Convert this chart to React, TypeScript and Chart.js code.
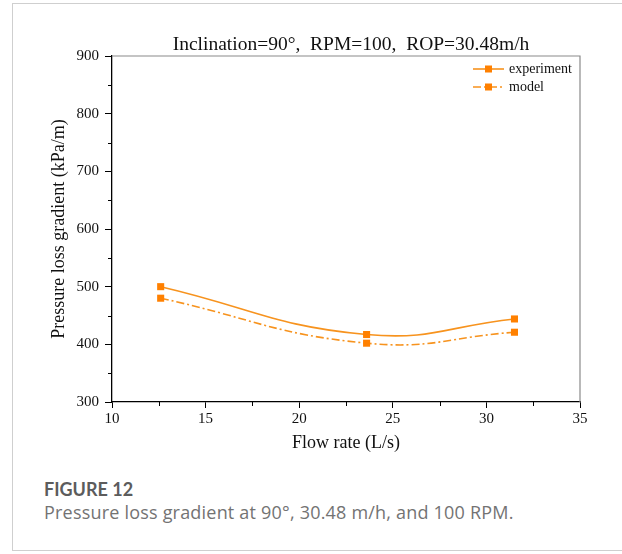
import React, { useEffect, useRef } from "react";
import { Chart, registerables } from "chart.js";

Chart.register(...registerables);

const chartTitle = "Inclination=90°,  RPM=100,  ROP=30.48m/h";
const xAxisTitle = "Flow rate (L/s)";
const yAxisTitle = "Pressure loss gradient (kPa/m)";
const flowRates = [12.6, 23.6, 31.5];
const experiment = [500, 417, 444];
const model = [480, 402, 421];
const seriesNames = ["experiment", "model"];
const xMin = 10, xMax = 35, xStep = 5;
const yMin = 300, yMax = 900, yStep = 100;

const SERIF = '"Liberation Serif", "Times New Roman", serif';
const ORANGE = "#ff8000";
const LINE_ORANGE = "#f7931e";

const framePlugin = {
  id: "frame",
  afterDraw(chart: any) {
    const { ctx, chartArea: a, scales } = chart;
    ctx.save();
    ctx.strokeStyle = "#8a8a8a";
    ctx.lineWidth = 1.2;
    ctx.beginPath();
    ctx.moveTo(a.left, a.top);
    ctx.lineTo(a.right, a.top);
    ctx.lineTo(a.right, a.bottom);
    ctx.stroke();
    ctx.strokeStyle = "#000";
    ctx.lineWidth = 1;
    const yt = scales.y.ticks;
    for (let i = 0; i < yt.length - 1; i++) {
      const p = Math.round(scales.y.getPixelForValue((yt[i].value + yt[i + 1].value) / 2)) + 0.5;
      ctx.beginPath();
      ctx.moveTo(a.left - 4, p);
      ctx.lineTo(a.left, p);
      ctx.stroke();
    }
    const xt = scales.x.ticks;
    for (let i = 0; i < xt.length - 1; i++) {
      const p = Math.round(scales.x.getPixelForValue((xt[i].value + xt[i + 1].value) / 2)) + 0.5;
      ctx.beginPath();
      ctx.moveTo(p, a.bottom);
      ctx.lineTo(p, a.bottom + 4);
      ctx.stroke();
    }
    ctx.fillStyle = "#111";
    ctx.font = "19.5px " + SERIF;
    ctx.textAlign = "center";
    ctx.textBaseline = "middle";
    ctx.fillText(chartTitle, (a.left + a.right) / 2 + 5, 45);
    chart.data.datasets.forEach((ds: any, i: number) => {
      const y = a.top + 13 + i * 18;
      const x0 = a.right - 107;
      const x1 = a.right - 76;
      ctx.strokeStyle = ds.borderColor;
      ctx.lineWidth = ds.borderWidth;
      ctx.setLineDash(ds.borderDash || []);
      ctx.beginPath();
      ctx.moveTo(x0, y);
      ctx.lineTo(x1, y);
      ctx.stroke();
      ctx.setLineDash([]);
      ctx.fillStyle = ds.pointBackgroundColor;
      ctx.fillRect((x0 + x1) / 2 - 3.5, y - 3.5, 7, 7);
      ctx.fillStyle = "#111";
      ctx.font = "14px " + SERIF;
      ctx.textAlign = "left";
      ctx.textBaseline = "middle";
      ctx.fillText(ds.label, x1 + 5, y);
    });
    ctx.restore();
  },
};

function App() {
  const ref = useRef<HTMLCanvasElement | null>(null);
  useEffect(() => {
    if (!ref.current) return;
    const mk = (vals: number[]) => flowRates.map((x, i) => ({ x, y: vals[i] }));
    const chart = new Chart(ref.current, {
      type: "line",
      data: {
        datasets: [
          {
            label: seriesNames[0],
            data: mk(experiment),
            borderColor: LINE_ORANGE,
            borderWidth: 1.6,
            pointStyle: "rect",
            pointRadius: 5,
            pointBackgroundColor: ORANGE,
            pointBorderColor: ORANGE,
            pointBorderWidth: 0,
            tension: 0.45,
            fill: false,
          },
          {
            label: seriesNames[1],
            data: mk(model),
            borderColor: LINE_ORANGE,
            borderWidth: 1.6,
            borderDash: [8, 3, 2, 3],
            pointStyle: "rect",
            pointRadius: 5,
            pointBackgroundColor: ORANGE,
            pointBorderColor: ORANGE,
            pointBorderWidth: 0,
            tension: 0.45,
            fill: false,
          },
        ],
      },
      options: {
        animation: false,
        responsive: false,
        maintainAspectRatio: false,
        layout: { padding: { left: 42, right: 42, top: 56, bottom: 0 } },
        plugins: { legend: { display: false }, tooltip: { enabled: false }, title: { display: false } },
        scales: {
          x: {
            type: "linear",
            min: xMin,
            max: xMax,
            afterFit: (s: any) => { s.height = 58; },
            ticks: { stepSize: xStep, color: "#111", padding: 2, font: { family: SERIF, size: 15 }, maxRotation: 0 },
            grid: { display: true, drawOnChartArea: false, drawTicks: true, tickLength: 6, color: "#000", lineWidth: 1 },
            border: { display: true, color: "#000", width: 1.3 },
            title: { display: true, text: xAxisTitle, color: "#111", font: { family: SERIF, size: 18 }, padding: { top: 4, bottom: 6 } },
          },
          y: {
            type: "linear",
            min: yMin,
            max: yMax,
            afterFit: (s: any) => { s.width = 70; },
            ticks: { stepSize: yStep, color: "#111", padding: 6, font: { family: SERIF, size: 15 } },
            grid: { display: true, drawOnChartArea: false, drawTicks: true, tickLength: 7, color: "#000", lineWidth: 1 },
            border: { display: true, color: "#000", width: 1.3 },
            title: { display: true, text: yAxisTitle, color: "#111", font: { family: SERIF, size: 18 }, padding: { top: 6, bottom: 4 } },
          },
        },
      },
      plugins: [framePlugin],
    });
    return () => chart.destroy();
  }, []);

  return (
    <div style={{ position: "absolute", left: 0, top: 0, width: 622, height: 554, overflow: "hidden", background: "#fff" }}>
      <div style={{ position: "absolute", left: 12, top: 3, width: 620, height: 548, border: "1.5px solid #cfcfcf", boxSizing: "border-box" }} />
      <canvas ref={ref} width={622} height={460} style={{ position: "absolute", left: 0, top: 0, width: 622, height: 460 }} />
      <div style={{ position: "absolute", left: 44, top: 480, fontFamily: "Lato, 'Open Sans', sans-serif", fontSize: 18, lineHeight: "18px", fontWeight: 700, color: "#5c5c5c", whiteSpace: "nowrap" }}>
        FIGURE 12
      </div>
      <div style={{ position: "absolute", left: 44, top: 503, fontFamily: "'Open Sans', Lato, sans-serif", fontSize: 18, lineHeight: "18px", letterSpacing: "0.2px", color: "#737373", whiteSpace: "nowrap" }}>
        Pressure loss gradient at 90°, 30.48 m/h, and 100 RPM.
      </div>
    </div>
  );
}

export default App;
